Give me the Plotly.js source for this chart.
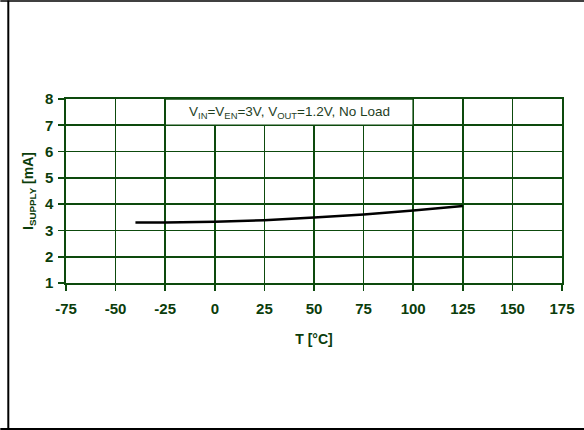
<!DOCTYPE html>
<html>
<head>
<meta charset="utf-8">
<script src="https://cdn.plot.ly/plotly-3.0.1.min.js"></script>
<style>
html,body{margin:0;padding:0;background:#fff;}
#chart{width:584px;height:430px;}
</style>
</head>
<body>
<div id="chart"></div>
<script>
// Data
const temperature = [-40, -25, 0, 25, 50, 75, 100, 125];
const supplyCurrent = [3.30, 3.30, 3.33, 3.39, 3.49, 3.61, 3.76, 3.93];
const xTicks = [-75, -50, -25, 0, 25, 50, 75, 100, 125, 150, 175];
const yTicks = [1, 2, 3, 4, 5, 6, 7, 8];
const conditionText = "V<sub>IN</sub>=V<sub>EN</sub>=3V, V<sub>OUT</sub>=1.2V, No Load";
const xTitle = "T [°C]";
const yTitle = "I<sub>SUPPLY</sub> [mA]";

const green = "#0d4a0d";
const textGreen = "#0b3d0b";
const W = 496, H = 184.2, L = 65.7, T = 98.5;
function px(x){ return (x - L) / W; }
function py(y){ return (T + H - y) / H; }

const trace = {
  x: temperature, y: supplyCurrent, type: "scatter", mode: "lines",
  line: {color: "#000", width: 2.5}, hoverinfo: "skip"
};

const FONT = "Liberation Sans, Arial, sans-serif";
const layout = {
  width: 584, height: 430,
  margin: {l: L, r: 584 - L - W, t: T, b: 430 - T - H, pad: 0},
  paper_bgcolor: "#fff", plot_bgcolor: "#fff",
  showlegend: false,
  font: {family: FONT, color: textGreen},
  xaxis: {
    range: [-75, 175], tickvals: xTicks, ticktext: xTicks.map(String),
    showgrid: true, gridcolor: green, gridwidth: 1.6,
    showline: true, linecolor: green, linewidth: 1.6, mirror: true,
    ticks: "outside", ticklen: 6, tickcolor: green, tickwidth: 1.6,
    ticklabelstandoff: 5,
    tickfont: {size: 15, family: FONT, weight: "bold", color: textGreen},
    zeroline: false,
    title: {text: "<b>" + xTitle + "</b>", font: {size: 14, color: textGreen}, standoff: 18}
  },
  yaxis: {
    range: [1, 8], tickvals: yTicks, ticktext: yTicks.map(String),
    showgrid: true, gridcolor: green, gridwidth: 1.6,
    showline: true, linecolor: green, linewidth: 1.6, mirror: true,
    ticks: "outside", ticklen: 6, tickcolor: green, tickwidth: 1.6,
    ticklabelstandoff: 2,
    tickfont: {size: 15, family: FONT, weight: "bold", color: textGreen},
    zeroline: false,
    title: {text: "<b>" + yTitle + "</b>", font: {size: 14, color: textGreen}, standoff: 8}
  },
  shapes: [
    {type: "rect", xref: "x", yref: "y", x0: -25, x1: 100, y0: 7, y1: 8,
     fillcolor: "#fff", line: {color: green, width: 1.6}, layer: "above"},
    {type: "line", xref: "paper", yref: "paper", x0: px(0), x1: px(584), y0: py(0.5), y1: py(0.5),
     line: {color: "#000", width: 1.5}},
    {type: "line", xref: "paper", yref: "paper", x0: px(8), x1: px(8), y0: py(0), y1: py(430),
     line: {color: "#000", width: 2}},
    {type: "line", xref: "paper", yref: "paper", x0: px(0), x1: px(584), y0: py(429), y1: py(429),
     line: {color: "#000", width: 2.5}}
  ],
  annotations: [
    {x: 37.5, y: 7.5, xref: "x", yref: "y", text: conditionText, showarrow: false,
     font: {size: 13.5, color: "#1f3f1f", family: FONT}}
  ]
};

Plotly.newPlot("chart", [trace], layout, {staticPlot: true, displayModeBar: false});
</script>
</body>
</html>
